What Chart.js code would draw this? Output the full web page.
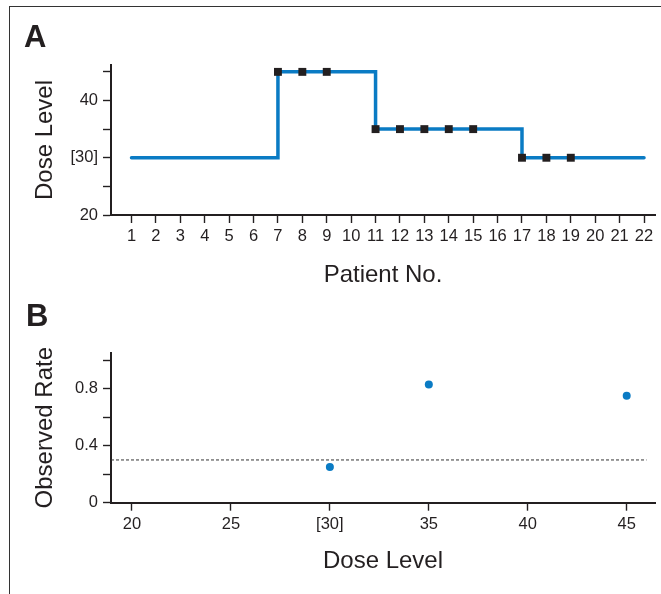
<!DOCTYPE html>
<html>
<head>
<meta charset="utf-8">
<script src="https://cdn.jsdelivr.net/npm/chart.js@4/dist/chart.umd.min.js"></script>
<style>
  html, body { margin: 0; padding: 0; background: #fff; }
  #wrap { position: relative; width: 661px; height: 594px; overflow: hidden; background: #fff; }
  #frame { position: absolute; left: 9px; top: 6px; width: 660px; height: 600px;
           border-left: 1.5px solid #333; border-top: 1.5px solid #333; }
  canvas { position: absolute; left: 0; }
  #cA { top: 0; }
  #cB { top: 300px; }
  .lbl { position: absolute; font: bold 31px "Liberation Sans", Arial, sans-serif; line-height: 31px; color: #231f20; }
</style>
</head>
<body>
<div id="wrap">
  <div id="frame"></div>
  <canvas id="cA" width="661" height="300"></canvas>
  <canvas id="cB" width="661" height="294"></canvas>
  <div class="lbl" style="left:24px; top:21px;">A</div>
  <div class="lbl" style="left:26px; top:300px;">B</div>
</div>
<script>
// ---- Panel A data ----
const patients = [1,2,3,4,5,6,7,8,9,10,11,12,13,14,15,16,17,18,19,20,21,22];
const doseByPatient = [30,30,30,30,30,30,45,45,45,45,35,35,35,35,35,35,30,30,30,30,30,30];
const markedPatients = [7,8,9,11,12,13,14,15,17,18,19];
const yTicksA = [20,25,30,35,40,45];
const yLabelsA = ['20','','[30]','','40',''];

// ---- Panel B data ----
const doseLevels = [30,35,45];
const observedRate = [0.25,0.83,0.75];
const targetRate = 0.3;
const targetSpan = [18.94,46];
const xTicksB = [20,25,30,35,40,45];
const xLabelsB = ['20','25','[30]','35','40','45'];
const yTicksB = [0,0.2,0.4,0.6,0.8,1.0];
const yLabelsB = ['0','','0.4','','0.8',''];

const BLUE = '#0a7bc4';
const INK = '#231f20';
const TITLE_FONT = { family: '"Liberation Sans", Arial, sans-serif', size: 24 };
const TICK_FONT = { family: '"Liberation Sans", Arial, sans-serif', size: 16.5 };

function axisStyle() {
  return {
    border: { display: true, color: INK, width: 2 },
    grid: { display: true, drawOnChartArea: false, drawTicks: true, tickLength: 8, tickWidth: 1.4, color: INK },
  };
}

// ---- Chart A ----
const lineData = patients.map((p, i) => ({ x: p, y: doseByPatient[i] }));
const markData = markedPatients.map(p => ({ x: p, y: doseByPatient[patients.indexOf(p)] }));

new Chart(document.getElementById('cA'), {
  type: 'line',
  data: {
    datasets: [
      { data: markData, showLine: false, pointStyle: 'rect', pointRadius: 5.6, pointBackgroundColor: INK,
        pointBorderColor: INK, pointBorderWidth: 0, clip: false },
      { data: lineData, stepped: 'before', borderColor: BLUE, borderWidth: 3.5, pointRadius: 0,
        borderCapStyle: 'round', borderJoinStyle: 'miter', fill: false, clip: false }
    ]
  },
  options: {
    responsive: false, animation: false, devicePixelRatio: 1,
    layout: { padding: { left: 0, right: 6, top: 65, bottom: 0 } },
    plugins: { legend: { display: false }, tooltip: { enabled: false } },
    scales: {
      x: Object.assign(axisStyle(), {
        type: 'linear', position: 'bottom', min: 0.16, max: 22.45,
        afterBuildTicks: s => { s.ticks = patients.map(v => ({ value: v })); },
        afterFit: s => { s.height = 85; },
        ticks: { font: TICK_FONT, color: INK, padding: 4, maxRotation: 0, autoSkip: false,
                 callback: v => String(v) },
        title: { display: true, text: 'Patient No.', font: TITLE_FONT, color: INK, padding: { top: 0, bottom: 10 } }
      }),
      y: Object.assign(axisStyle(), {
        type: 'linear', position: 'left', min: 20, max: 46.2,
        afterBuildTicks: s => { s.ticks = yTicksA.map(v => ({ value: v })); },
        afterFit: s => { s.width = 111; },
        ticks: { font: TICK_FONT, color: INK, padding: 5, autoSkip: false,
                 callback: (v) => yLabelsA[yTicksA.indexOf(v)] ?? '' },
        title: { display: true, text: 'Dose Level', font: TITLE_FONT, color: INK, padding: { top: 31, bottom: 0 } }
      })
    }
  }
});

// ---- Chart B ----
const rateData = doseLevels.map((d, i) => ({ x: d, y: observedRate[i] }));
const targetData = targetSpan.map(x => ({ x: x, y: targetRate }));

new Chart(document.getElementById('cB'), {
  type: 'scatter',
  data: {
    datasets: [
      { data: rateData, pointStyle: 'circle', pointRadius: 4, pointBackgroundColor: BLUE, pointBorderWidth: 0, clip: false },
      { data: targetData, showLine: true, borderColor: '#333', borderWidth: 1, borderDash: [3, 2], pointRadius: 0, clip: false }
    ]
  },
  options: {
    responsive: false, animation: false, devicePixelRatio: 1,
    layout: { padding: { left: 0, right: 6, top: 52.7, bottom: 0 } },
    plugins: { legend: { display: false }, tooltip: { enabled: false } },
    scales: {
      x: Object.assign(axisStyle(), {
        type: 'linear', position: 'bottom', min: 18.94, max: 46.43,
        afterBuildTicks: s => { s.ticks = xTicksB.map(v => ({ value: v })); },
        afterFit: s => { s.height = 91.3; },
        ticks: { font: TICK_FONT, color: INK, padding: 4, maxRotation: 0, autoSkip: false,
                 callback: v => xLabelsB[xTicksB.indexOf(v)] ?? '' },
        title: { display: true, text: 'Dose Level', font: TITLE_FONT, color: INK, padding: { top: 0, bottom: 18 } }
      }),
      y: Object.assign(axisStyle(), {
        type: 'linear', position: 'left', min: 0, max: 1.053,
        afterBuildTicks: s => { s.ticks = yTicksB.map(v => ({ value: v })); },
        afterFit: s => { s.width = 111; },
        ticks: { font: TICK_FONT, color: INK, padding: 5, autoSkip: false,
                 callback: (v) => { const i = yTicksB.findIndex(t => Math.abs(t - v) < 1e-9); return i >= 0 ? yLabelsB[i] : ''; } },
        title: { display: true, text: 'Observed Rate', font: TITLE_FONT, color: INK, padding: { top: 31, bottom: 0 } }
      })
    }
  }
});
</script>
</body>
</html>
